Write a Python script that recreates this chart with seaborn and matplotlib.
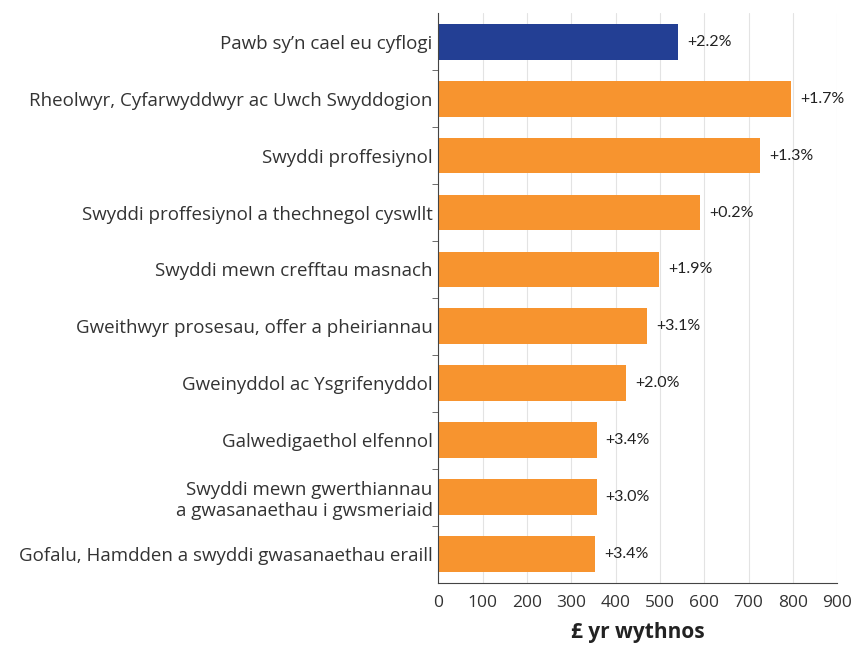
import matplotlib.pyplot as plt
import numpy as np
import pandas as pd
import seaborn as sns
from matplotlib.ticker import FixedLocator

# Data
categories = [
    "Pawb sy\u2019n cael eu cyflogi",
    "Rheolwyr, Cyfarwyddwyr ac Uwch Swyddogion",
    "Swyddi proffesiynol",
    "Swyddi proffesiynol a thechnegol cyswllt",
    "Swyddi mewn crefftau masnach",
    "Gweithwyr prosesau, offer a pheiriannau",
    "Gweinyddol ac Ysgrifenyddol",
    "Galwedigaethol elfennol",
    "Swyddi mewn gwerthiannau\na gwasanaethau i gwsmeriaid",
    "Gofalu, Hamdden a swyddi gwasanaethau eraill",
]
weekly_pay = [542, 796, 727, 591, 499, 472, 424, 357, 357, 354]
pct_change = ["+2.2%", "+1.7%", "+1.3%", "+0.2%", "+1.9%",
              "+3.1%", "+2.0%", "+3.4%", "+3.0%", "+3.4%"]
groups = ["all"] + ["occ"] * 9

df = pd.DataFrame({"category": categories, "pay": weekly_pay, "group": groups})

sns.set_style("white")
plt.rcParams["font.family"] = ["Open Sans", "DejaVu Sans"]

fig = plt.figure(figsize=(8.56, 6.57), dpi=100)
ax = fig.add_axes([0.512, 0.113, 0.466, 0.867])

sns.barplot(
    data=df, x="pay", y="category", hue="group",
    palette={"all": "#233f94", "occ": "#f7942f"}, saturation=1,
    width=0.63, dodge=False, legend=False, linewidth=0, ax=ax,
)

# percentage change labels next to each bar
for i, (v, lab) in enumerate(zip(weekly_pay, pct_change)):
    ax.text(v + 20, i, lab, va="center", ha="left", fontsize=11.5,
            family=["Lato", "DejaVu Sans"], color="#222222")

ax.set_xlim(0, 900)
ax.set_xticks(np.arange(0, 901, 100))
ax.xaxis.grid(True, color="#e3e3e3", linewidth=0.8)
ax.set_axisbelow(True)
ax.set_ylim(len(categories) - 0.5, -0.5)
ax.yaxis.set_minor_locator(FixedLocator(np.arange(0.5, len(categories) - 0.5, 1)))
ax.tick_params(axis="y", which="major", length=0, labelsize=13.5, colors="#333333", pad=4)
ax.tick_params(axis="y", which="minor", length=4, color="#555555", left=True)
ax.tick_params(axis="x", length=5, color="#333333", labelsize=12.5, colors="#333333")

for s in ["top", "right"]:
    ax.spines[s].set_visible(False)
ax.spines["left"].set_color("#444444")
ax.spines["bottom"].set_color("#444444")

ax.set_ylabel("")
ax.set_xlabel("\u00a3 yr wythnos", fontsize=15, fontweight="bold", color="#222222", labelpad=8)

fig.savefig("out.png", dpi=100)
